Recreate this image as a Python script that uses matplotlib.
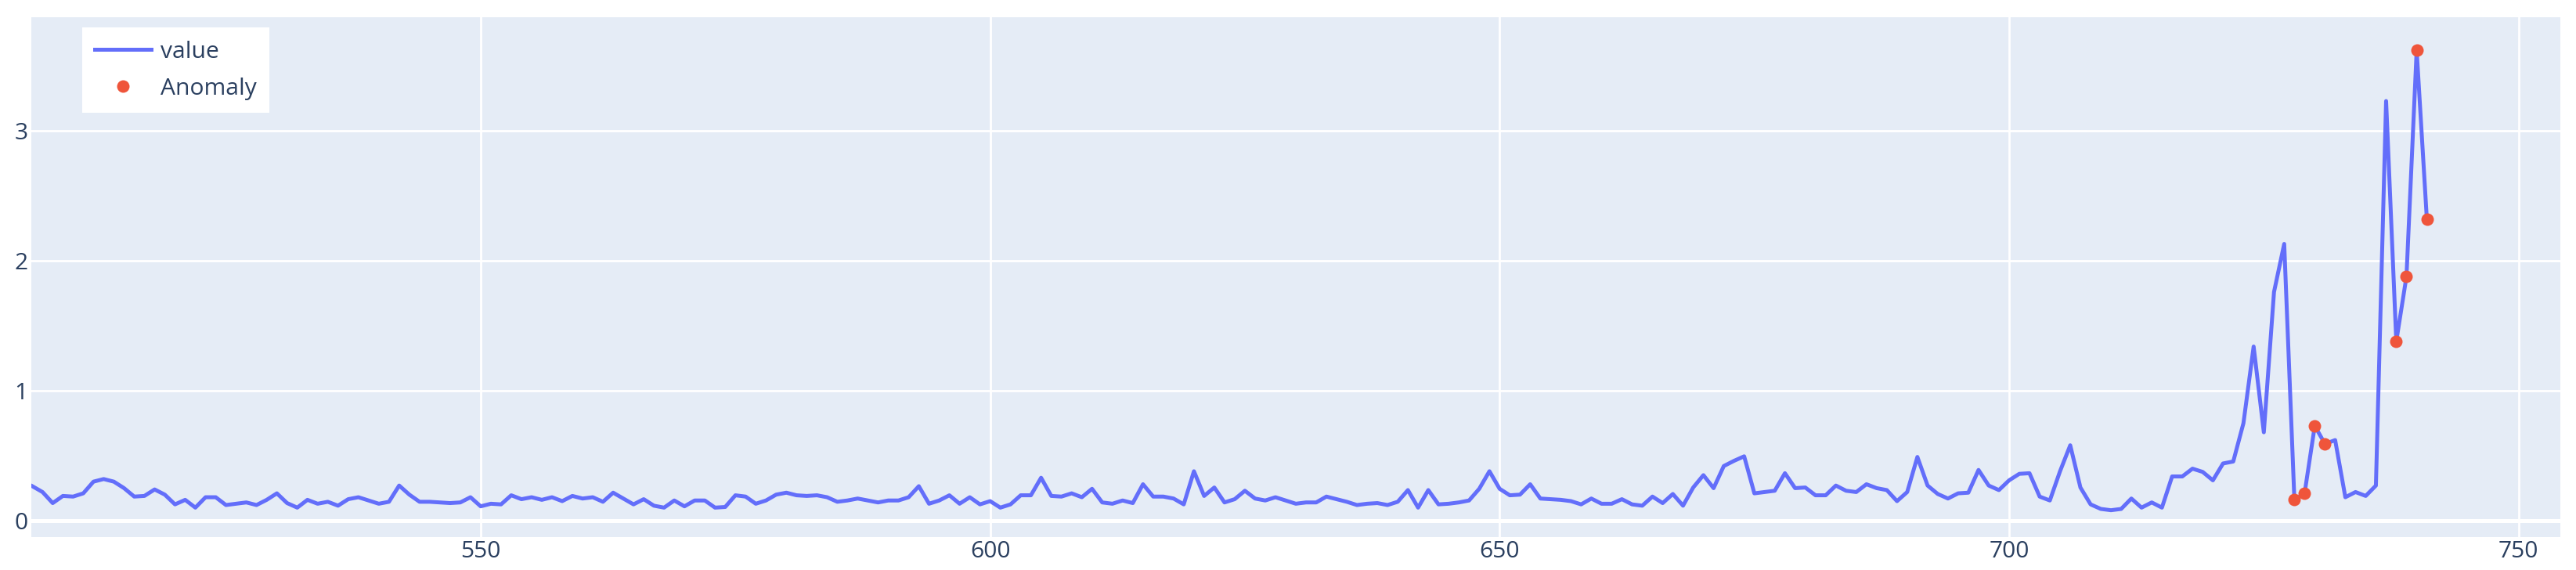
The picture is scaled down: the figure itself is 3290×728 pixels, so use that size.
import matplotlib
matplotlib.use("Agg")
import matplotlib.pyplot as plt
import numpy as np

# ---- data ----
start_index = 506
values = [
    0.265, 0.22, 0.135, 0.19, 0.185, 0.21, 0.30, 0.32, 0.30, 0.25,      # 506-515
    0.185, 0.19, 0.24, 0.20, 0.125, 0.16, 0.10, 0.18, 0.18, 0.12,       # 516-525
    0.13, 0.14, 0.12, 0.16, 0.21, 0.135, 0.10, 0.16, 0.13, 0.145,       # 526-535
    0.115, 0.165, 0.18, 0.155, 0.13, 0.145, 0.27, 0.20, 0.145, 0.145,   # 536-545
    0.14, 0.135, 0.14, 0.18, 0.11, 0.13, 0.125, 0.195, 0.165, 0.18,     # 546-555
    0.16, 0.18, 0.15, 0.19, 0.17, 0.18, 0.145, 0.215, 0.17, 0.125,      # 556-565
    0.165, 0.115, 0.10, 0.155, 0.11, 0.155, 0.155, 0.10, 0.105, 0.195,  # 566-575
    0.185, 0.13, 0.155, 0.20, 0.215, 0.195, 0.19, 0.195, 0.18, 0.145,   # 576-585
    0.155, 0.17, 0.155, 0.14, 0.155, 0.155, 0.18, 0.265, 0.13, 0.155,   # 586-595
    0.195, 0.13, 0.18, 0.125, 0.15, 0.10, 0.125, 0.195, 0.195, 0.33,    # 596-605
    0.19, 0.185, 0.21, 0.18, 0.245, 0.14, 0.13, 0.155, 0.135, 0.28,     # 606-615
    0.185, 0.185, 0.17, 0.125, 0.38, 0.19, 0.255, 0.14, 0.165, 0.23,    # 616-625
    0.17, 0.155, 0.18, 0.155, 0.13, 0.14, 0.14, 0.185, 0.165, 0.145,    # 626-635
    0.12, 0.13, 0.135, 0.12, 0.145, 0.235, 0.10, 0.235, 0.125, 0.13,    # 636-645
    0.14, 0.155, 0.245, 0.38, 0.245, 0.195, 0.20, 0.28, 0.17, 0.165,    # 646-655
    0.16, 0.15, 0.125, 0.17, 0.13, 0.13, 0.165, 0.125, 0.115, 0.185,    # 656-665
    0.135, 0.205, 0.115, 0.255, 0.35, 0.25, 0.42, 0.46, 0.495, 0.21,    # 666-675
    0.22, 0.23, 0.365, 0.25, 0.255, 0.195, 0.195, 0.27, 0.23, 0.22,     # 676-685
    0.28, 0.25, 0.235, 0.15, 0.22, 0.49, 0.27, 0.205, 0.17, 0.21,       # 686-695
    0.215, 0.39, 0.27, 0.235, 0.31, 0.36, 0.365, 0.185, 0.155, 0.38,    # 696-705
    0.58, 0.255, 0.125, 0.09, 0.08, 0.09, 0.17, 0.10, 0.14, 0.10,       # 706-715
    0.34, 0.34, 0.40, 0.375, 0.31, 0.44, 0.455, 0.75, 1.34, 0.68,       # 716-725
    1.76, 2.13, 0.16, 0.21, 0.73, 0.59, 0.62, 0.18, 0.22, 0.19,         # 726-735
    0.27, 3.23, 1.38, 1.88, 3.62, 2.32,                                  # 736-741
]
anomaly_x = [728, 729, 730, 731, 738, 739, 740, 741]
anomaly_y = [0.16, 0.21, 0.73, 0.59, 1.38, 1.88, 3.62, 2.32]
x_ticks = [550, 600, 650, 700, 750]
y_ticks = [0, 1, 2, 3]

x = np.arange(start_index, start_index + len(values))

plt.rcParams['font.family'] = ['Open Sans', 'DejaVu Sans']

W, H = 3290, 728
fig = plt.figure(figsize=(W / 100, H / 100), dpi=100)
L, R, T, B = 40, 3270, 22, 686
ax = fig.add_axes([L / W, 1 - B / H, (R - L) / W, (B - T) / H])
ax.set_facecolor('#E5ECF6')
ax.set_xlim(505.9, 754.1)
ax.set_ylim(-0.127, 3.875)
ax.set_xticks(x_ticks)
ax.set_yticks(y_ticks)
ax.set_axisbelow(True)
ax.grid(True, color='white', linewidth=2.0)
ax.axhline(0, color='white', linewidth=3.6, zorder=1)
for s in ax.spines.values():
    s.set_visible(False)
ax.tick_params(length=0, labelsize=21.6, labelcolor='#2a3f5f')
ax.tick_params(axis='y', pad=3)
ax.tick_params(axis='x', pad=3)

ax.plot(x, values, color='#636EFA', linewidth=3.6, label='value', zorder=3)
ax.plot(anomaly_x, anomaly_y, 'o', color='#EF553B', markersize=11.5,
        markeredgewidth=0, label='Anomaly', zorder=4)

leg = ax.legend(loc='upper left', bbox_to_anchor=(0.020, 0.980),
                frameon=True, fancybox=False, edgecolor='none',
                facecolor='white', framealpha=1, fontsize=21.6,
                handlelength=2.4, handletextpad=0.4, labelspacing=0.6,
                borderpad=0.55, borderaxespad=0)
leg.get_frame().set_linewidth(0)
for t in leg.get_texts():
    t.set_color('#2a3f5f')

fig.savefig('out.png', dpi=100)
